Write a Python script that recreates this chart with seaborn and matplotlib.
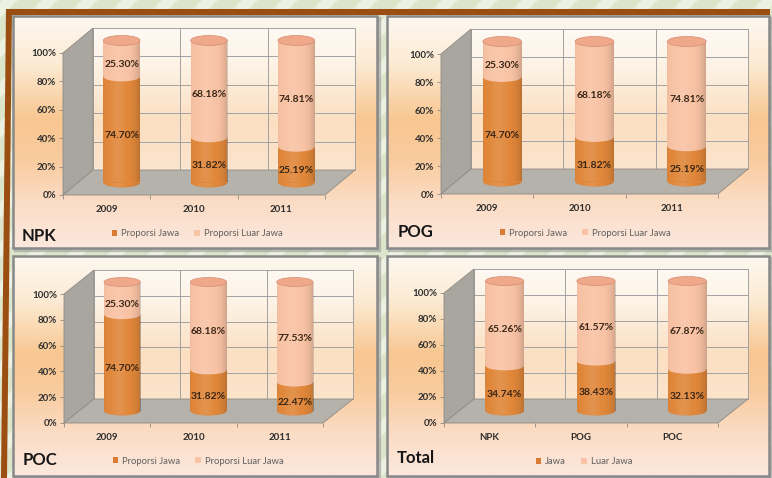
import numpy as np
import pandas as pd
import matplotlib
matplotlib.use("Agg")
import matplotlib.pyplot as plt
import seaborn as sns
from matplotlib.patches import Ellipse, Polygon, Rectangle, Patch
from matplotlib.colors import LinearSegmentedColormap

W, H, DPI = 772, 478, 100

# ---- data -------------------------------------------------------------
years = ["2009", "2010", "2011"]
npk_jawa = [74.70, 31.82, 25.19]
npk_luar = [25.30, 68.18, 74.81]
pog_jawa = [74.70, 31.82, 25.19]
pog_luar = [25.30, 68.18, 74.81]
poc_jawa = [74.70, 31.82, 22.47]
poc_luar = [25.30, 68.18, 77.53]
products = ["NPK", "POG", "POC"]
total_jawa = [34.74, 38.43, 32.13]
total_luar = [65.26, 61.57, 67.87]
y_ticks = [0, 20, 40, 60, 80, 100]
y_tick_labels = ["0%", "20%", "40%", "60%", "80%", "100%"]
legend_year = ["Proporsi Jawa", "Proporsi Luar Jawa"]
legend_total = ["Jawa", "Luar Jawa"]

# ---- styling ----------------------------------------------------------
DARK = "#E0873A"
LIGHT = "#F8C2A4"
TOP = "#EFA88A"
RIM = "#D48C74"
SIDE = "#A9A6A0"
FLOOR = "#B5B2AC"
GRID = "#A2A2A2"
BROWN = "#9B4E12"
LABEL = "#3A2616"
BW = 0.42

sns.set_theme(style="white")
plt.rcParams["font.family"] = ["Lato", "DejaVu Sans"]

fig = plt.figure(figsize=(W / DPI, H / DPI), dpi=DPI)
bg = fig.add_axes([0, 0, 1, 1])
bg.axis("off")

# striped green backdrop
bg.add_patch(Rectangle((0, 0), W, H, fc="#DCE5C9", ec="none", zorder=0))
for c in range(-H, W + H, 40):
    bg.add_patch(Polygon([(c, 0), (c + 16, 0), (c + 16 - H, H), (c - H, H)],
                         fc="#ECF1E1", ec="none", zorder=0.1))

# brown frame on top and left
bg.add_patch(Rectangle((6, 9), 764, 6, fc=BROWN, ec="none", zorder=1))
bg.add_patch(Polygon([(6, 9), (12, 9), (7, H), (1, H)], fc=BROWN, ec="none", zorder=1))

panel_cmap = LinearSegmentedColormap.from_list("panel", [
    (0.00, "#FDF8F0"), (0.20, "#FCEBD4"), (0.45, "#F8C690"),
    (0.62, "#F9CC9F"), (0.80, "#FBDCC4"), (1.00, "#FCE8DE")])
grad = np.linspace(0, 1, 256).reshape(-1, 1)

panel_rects = [(13, 16, 377, 248), (387, 16, 769, 248),
               (13, 256, 377, 476), (387, 256, 769, 476)]
for (x0, y0, x1, y1) in panel_rects:
    bg.add_patch(Rectangle((x0 + 1.5, y0 + 1.5), x1 - x0, y1 - y0, fc="none",
                           ec="#9A9A9A", lw=2.4, alpha=0.6, zorder=2))
    bg.imshow(grad, extent=(x0, x1, y1, y0), aspect="auto", cmap=panel_cmap,
              zorder=2.5, interpolation="bilinear")
    bg.add_patch(Rectangle((x0, y0), x1 - x0, y1 - y0, fc="none",
                           ec="#888888", lw=1.8, zorder=3))
bg.set_xlim(0, W)
bg.set_ylim(H, 0)


def shade_array():
    s = np.linspace(0, 1, 64)
    val = 0.10 * np.exp(-((s - 0.4) / 0.2) ** 2) - 0.16 * ((s - 0.4) / 0.6) ** 4
    arr = np.zeros((1, 64, 4))
    arr[0, :, :3] = (val > 0)[:, None] * 1.0
    arr[0, :, 3] = np.abs(val)
    return arr


SHADE = shade_array()


def add_shade(ax, patch, x0, x1, y0, y1, z):
    im = ax.imshow(SHADE, extent=(x0, x1, y0, y1), aspect="auto",
                   interpolation="bilinear", zorder=z)
    im.set_clip_box(fig.bbox)
    im.set_clip_path(patch)


def draw_chart(cats, jawa, luar, front, depth, cap, title, title_xy,
               legend_labels, legend_xy):
    fl, fr, ft, fb = front
    ax = fig.add_axes([fl / W, 1 - fb / H, (fr - fl) / W, (fb - ft) / H])
    ax.patch.set_alpha(0)
    n = len(cats)
    xpx = (fr - fl) / n
    ypx = (fb - ft) / 100.0
    ddx, ddy = depth[0] / xpx, depth[1] / ypx
    x0, x1 = -0.5, n - 0.5

    # back wall, gridlines, side wall and floor
    ax.add_patch(Rectangle((x0 + ddx, ddy), n, 100, fc="white", alpha=0.45,
                           ec="none", zorder=0.5, clip_on=False))
    for t in y_ticks:
        ax.plot([x0 + ddx, x1 + ddx], [t + ddy, t + ddy], color=GRID, lw=0.7,
                zorder=0.6, clip_on=False)
    for k in range(n + 1):
        ax.plot([x0 + k + ddx] * 2, [ddy, 100 + ddy], color=GRID, lw=0.7,
                zorder=0.6, clip_on=False)
    ax.add_patch(Polygon([(x0, 0), (x0 + ddx, ddy), (x0 + ddx, 100 + ddy), (x0, 100)],
                         fc=SIDE, ec="#8E8B85", lw=0.6, zorder=1, clip_on=False))
    ax.add_patch(Polygon([(x0, 0), (x1, 0), (x1 + ddx, ddy), (x0 + ddx, ddy)],
                         fc=FLOOR, ec="#8E8B85", lw=0.6, zorder=1, clip_on=False))

    # cylinder bodies: full stack (light) with Jawa share (dark) in front
    df = pd.DataFrame({"cat": cats, "jawa": jawa, "luar": luar})
    df["total"] = df["jawa"] + df["luar"]
    sns.barplot(data=df, x="cat", y="total", color=LIGHT, saturation=1,
                width=BW, ax=ax, zorder=3, linewidth=0)
    sns.barplot(data=df, x="cat", y="jawa", color=DARK, saturation=1,
                width=BW, ax=ax, zorder=3.1, linewidth=0)
    for cont in ax.containers:
        for p in cont:
            p.set_x(p.get_x() + ddx / 2)
            p.set_y(p.get_y() + ddy / 2)
            p.set_clip_on(False)
            add_shade(ax, p, p.get_x(), p.get_x() + p.get_width(),
                      p.get_y(), p.get_y() + p.get_height(), p.get_zorder() + 0.01)

    eh = cap / ypx
    lbl = 6 / ypx
    base = ddy / 2
    for i, (j, l) in enumerate(zip(df["jawa"], df["luar"])):
        cx = i + ddx / 2
        e0 = Ellipse((cx, base), BW, eh, fc=DARK, ec="none", zorder=2.9, clip_on=False)
        ax.add_patch(e0)
        add_shade(ax, e0, cx - BW / 2, cx + BW / 2, base - eh / 2, base + eh / 2, 2.91)
        e1 = Ellipse((cx, base + j), BW, eh, fc=LIGHT, ec="none", zorder=3.2, clip_on=False)
        ax.add_patch(e1)
        add_shade(ax, e1, cx - BW / 2, cx + BW / 2, base + j - eh / 2, base + j + eh / 2, 3.21)
        ax.add_patch(Ellipse((cx, base + j + l), BW, eh, fc=TOP, ec=RIM, lw=0.5,
                             zorder=3.3, clip_on=False))
        ax.text(cx, base + j / 2 - lbl, f"{j:.2f}%", ha="center", va="center",
                fontsize=7.5, fontweight="bold", color=LABEL, zorder=5, clip_on=False)
        ax.text(cx, base + j + l / 2 - lbl, f"{l:.2f}%", ha="center", va="center",
                fontsize=7.5, fontweight="bold", color=LABEL, zorder=5, clip_on=False)

    # axes
    ax.set_xlim(x0, x1)
    ax.set_ylim(0, 100)
    ax.set_xlabel("")
    ax.set_ylabel("")
    ax.grid(False)
    for s in ax.spines.values():
        s.set_visible(False)
    ax.set_yticks(y_ticks)
    ax.set_yticklabels(y_tick_labels, fontsize=7, fontweight="bold", color="#2E2E2E")
    ax.tick_params(axis="y", length=3, width=0.6, color="#8E8B85", pad=2, left=True)
    ax.set_xticks(range(n))
    ax.set_xticklabels(cats, fontsize=7, fontweight="bold", color="#2E2E2E")
    ax.tick_params(axis="x", which="major", length=0, pad=7)
    ax.set_xticks([x0 + k for k in range(n + 1)], minor=True)
    ax.tick_params(axis="x", which="minor", length=3, width=0.6, color="#8E8B85",
                   bottom=True)

    fig.text(title_xy[0] / W, 1 - title_xy[1] / H, title, fontsize=12,
             fontweight="bold", color="#151515", ha="left", va="center")
    ax.legend(handles=[Patch(fc="#D97B32", ec="none"), Patch(fc=LIGHT, ec="none")],
              labels=legend_labels, loc="center", ncol=2, frameon=False,
              bbox_to_anchor=(legend_xy[0] / W, 1 - legend_xy[1] / H),
              bbox_transform=fig.transFigure, fontsize=6.8, labelcolor="#606060",
              handlelength=0.6, handleheight=0.6, handletextpad=0.4,
              columnspacing=1.6)


draw_chart(years, npk_jawa, npk_luar, (63, 325, 53, 195), (30, 25), 10,
           "NPK", (22, 236), legend_year, (197, 234))
draw_chart(years, pog_jawa, pog_luar, (441, 718, 54, 194), (30, 25), 10,
           "POG", (398, 232), legend_year, (585, 233))
draw_chart(years, poc_jawa, poc_luar, (64, 323, 294, 423), (30, 24), 9,
           "POC", (23, 460), legend_year, (198, 461))
draw_chart(products, total_jawa, total_luar, (444, 718, 293, 423), (30, 24), 9,
           "Total", (397, 458), legend_total, (584, 462))

fig.savefig("out.png", dpi=DPI)
